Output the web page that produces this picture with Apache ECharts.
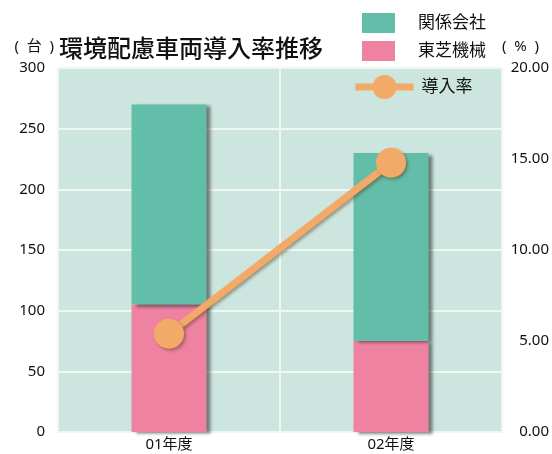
<!DOCTYPE html>
<html>
<head>
<meta charset="utf-8">
<script src="https://cdn.jsdelivr.net/npm/echarts@6/dist/echarts.min.js"></script>
<style>
  html, body { margin: 0; padding: 0; background: #fff; }
  #chart { width: 552px; height: 454px; }
</style>
</head>
<body>
<div id="chart"></div>
<script>
// values
const categories = ["01年度", "02年度"];
const toshibaKikai = [105, 75];      // 東芝機械 (台)
const kankeiKaisha = [165, 155];     // 関係会社 (台), stacked on top
const rate = [5.4, 14.8];            // 導入率 (%)
const leftTicks = { min: 0, max: 300, interval: 50 };
const rightTicks = { min: 0, max: 20, interval: 5 };

const FONT = "'Noto Sans', 'Noto Sans CJK JP', sans-serif";
const INK = "#111";
const TEAL = "#62bea8";
const PINK = "#ee82a0";
const ORANGE = "#f3aa68";
const barShadow = {
  shadowColor: "rgba(40,40,40,0.55)",
  shadowBlur: 3,
  shadowOffsetX: 4,
  shadowOffsetY: 2,
};

let chart = echarts.init(document.getElementById("chart"));

let legendBase = {
  orient: "vertical",
  padding: 0,
  itemGap: 0,
  textStyle: { fontSize: 17, color: INK, fontFamily: FONT },
};

chart.setOption({
  animation: false,
  textStyle: { fontFamily: FONT },
  title: {
    text: "環境配慮車両導入率推移",
    left: 54,
    top: 33,
    textStyle: { fontSize: 24, fontWeight: 500, color: INK, fontFamily: FONT },
  },
  legend: [
    Object.assign({}, legendBase, {
      data: ["関係会社"],
      left: 362, top: 13,
      itemWidth: 33, itemHeight: 20, icon: "rect",
      textStyle: Object.assign({}, legendBase.textStyle, { padding: [0, 0, 0, 18] }),
    }),
    Object.assign({}, legendBase, {
      data: ["東芝機械"],
      left: 362, top: 41,
      itemWidth: 33, itemHeight: 20, icon: "rect",
      textStyle: Object.assign({}, legendBase.textStyle, { padding: [0, 0, 0, 18] }),
    }),
    Object.assign({}, legendBase, {
      data: ["導入率"],
      left: 352, top: 75,
      itemWidth: 58, itemHeight: 30,
      lineStyle: { width: 7 },
      textStyle: Object.assign({}, legendBase.textStyle, { padding: [0, 0, 0, 3] }),
    }),
  ],
  grid: {
    left: 58, right: 50, top: 68, bottom: 22,
    show: true, backgroundColor: "#cce5de", borderWidth: 0,
  },
  xAxis: {
    type: "category",
    data: categories,
    axisLine: { show: false },
    axisTick: { show: false },
    axisLabel: { fontSize: 15, color: INK, margin: 5 },
    splitLine: { show: true, lineStyle: { color: "#eef7f4", width: 2 } },
  },
  yAxis: [
    {
      type: "value",
      min: leftTicks.min, max: leftTicks.max, interval: leftTicks.interval,
      name: "(  台  )",
      nameLocation: "end",
      nameGap: 21,
      nameTextStyle: { fontSize: 15, color: INK, align: "right", verticalAlign: "middle", padding: [0, 4, 0, 0] },
      axisLine: { show: false },
      axisTick: { show: false },
      axisLabel: { fontSize: 15, color: INK, margin: 13 },
      splitLine: { show: true, lineStyle: { color: "#eef7f4", width: 2 } },
    },
    {
      type: "value",
      min: rightTicks.min, max: rightTicks.max, interval: rightTicks.interval,
      name: "(  %  )",
      nameLocation: "end",
      nameGap: 21,
      nameTextStyle: { fontSize: 15, color: INK, align: "left", verticalAlign: "middle", padding: [0, 0, 0, 0] },
      axisLine: { show: false },
      axisTick: { show: false },
      axisLabel: {
        fontSize: 15, color: INK, margin: 47, align: "right",
        formatter: (v) => v.toFixed(2),
      },
      splitLine: { show: false },
    },
  ],
  series: [
    {
      name: "東芝機械",
      type: "bar",
      stack: "cars",
      barWidth: 75,
      data: toshibaKikai,
      itemStyle: Object.assign({ color: PINK }, barShadow),
    },
    {
      name: "関係会社",
      type: "bar",
      stack: "cars",
      barWidth: 75,
      data: kankeiKaisha,
      itemStyle: Object.assign({ color: TEAL }, barShadow),
    },
    {
      name: "導入率",
      type: "line",
      yAxisIndex: 1,
      data: rate,
      symbol: "circle",
      symbolSize: 30,
      z: 5,
      itemStyle: {
        color: ORANGE,
        shadowColor: "rgba(90,60,30,0.45)", shadowBlur: 3, shadowOffsetX: 2, shadowOffsetY: 2,
      },
      lineStyle: {
        color: ORANGE, width: 7,
        shadowColor: "rgba(90,60,30,0.45)", shadowBlur: 3, shadowOffsetX: 2, shadowOffsetY: 2,
      },
    },
  ],
}, true);

window.addEventListener("resize", () => {
  if (chart) {
    chart.resize();
  }
});
</script>
</body>
</html>
